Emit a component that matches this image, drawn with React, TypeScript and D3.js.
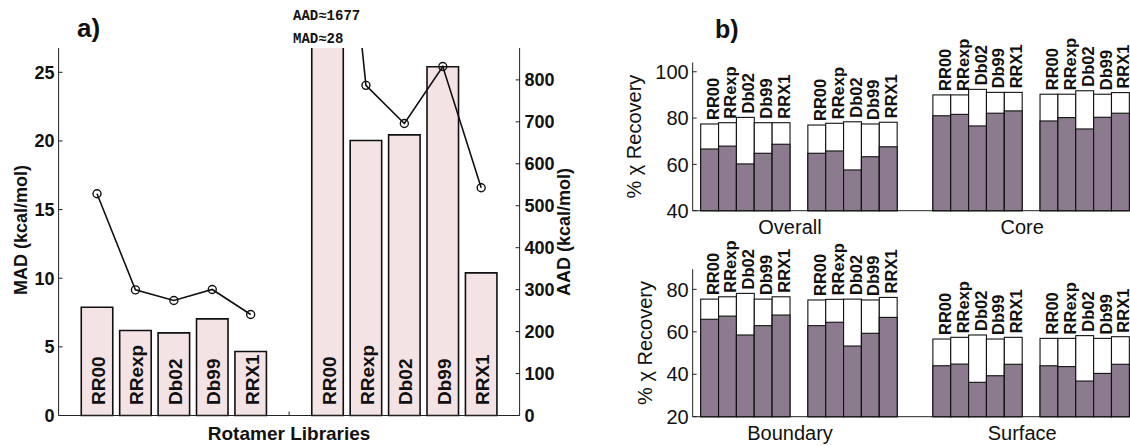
import React from "react";
import * as d3 from "d3";

// ---------- Data ----------
const libraries = ["RR00", "RRexp", "Db02", "Db99", "RRX1"];

// panel a
const madBarsSet1 = [7.89, 6.19, 6.02, 7.04, 4.66];
const lineSet1 = [16.15, 9.15, 8.38, 9.18, 7.36];
const madBarsSet2 = [28, 20.03, 20.44, 25.4, 10.39];
const aadLineSet2 = [1677, 787, 696, 832, 543];
const leftTicks = [0, 5, 10, 15, 20, 25];
const rightTicks = [0, 100, 200, 300, 400, 500, 600, 700, 800];

// panel b
const overallTotal1 = [77.45, 78.0, 80.3, 78.0, 78.0];
const overallLower1 = [66.65, 67.9, 60.2, 64.8, 68.7];
const overallTotal2 = [77.0, 77.75, 78.4, 77.45, 78.2];
const overallLower2 = [64.8, 65.8, 57.6, 63.3, 67.6];
const coreTotal1 = [90.0, 90.0, 92.4, 91.1, 91.1];
const coreLower1 = [81.0, 81.6, 76.6, 82.1, 83.1];
const coreTotal2 = [90.3, 90.3, 91.8, 90.3, 91.0];
const coreLower2 = [78.75, 80.2, 75.3, 80.35, 82.1];
const boundaryTotal1 = [75.4, 76.5, 78.1, 75.4, 76.5];
const boundaryLower1 = [65.9, 67.4, 58.5, 62.9, 67.9];
const boundaryTotal2 = [75.0, 75.3, 75.4, 75.0, 76.2];
const boundaryLower2 = [62.9, 64.5, 53.3, 59.3, 66.8];
const surfaceTotal1 = [56.6, 57.4, 58.5, 56.6, 57.4];
const surfaceLower1 = [44.0, 44.8, 36.2, 39.3, 44.7];
const surfaceTotal2 = [56.9, 56.9, 58.2, 56.9, 57.7];
const surfaceLower2 = [44.0, 43.6, 36.8, 40.4, 44.7];
const topTicks = [40, 60, 80, 100];
const bottomTicks = [20, 40, 60, 80];

const FONT = "'Liberation Sans', Arial, Helvetica, sans-serif";
const PINK = "#f4e3e5";
const PURPLE = "#8c7a8f";

// ---------- Panel A ----------
function PanelA() {
  const x = d3.scaleLinear().domain([0, 12]).range([58.6, 519.6]);
  const yL = d3.scaleLinear().domain([0, 26.77]).range([415.5, 48]);
  const yR = d3.scaleLinear().domain([0, 876]).range([415.5, 48]);
  const bw = (x(1) - x(0)) * 0.82;
  const pos1 = libraries.map((_, i) => i + 1);
  const pos2 = libraries.map((_, i) => i + 7);
  const lineGen = d3.line<[number, number]>().x((d) => d[0]).y((d) => d[1]);
  const line1 = lineGen(pos1.map((p, i) => [x(p), yL(lineSet1[i])]));
  const line2 = lineGen(pos2.map((p, i) => [x(p), yR(aadLineSet2[i])]));
  const [x0, x1] = x.range();
  const [yb, yt] = yL.range();

  const bars = (positions: number[], vals: number[], key: string) =>
    positions.map((p, i) => {
      const top = Math.max(yL(vals[i]), yt);
      return (
        <g key={key + i}>
          <rect x={x(p) - bw / 2} y={top} width={bw} height={yb - top} fill={PINK} stroke="none" />
          <path
            d={
              yL(vals[i]) < yt
                ? `M${x(p) - bw / 2},${top}V${yb}H${x(p) + bw / 2}V${top}`
                : `M${x(p) - bw / 2},${yb}V${top}H${x(p) + bw / 2}V${yb}Z`
            }
            fill="none"
            stroke="#111"
            strokeWidth={1.6}
          />
          <text
            transform={`translate(${x(p) + 8},405) rotate(-90)`}
            fontFamily={FONT}
            fontWeight="bold"
            fontSize={19}
            fill="#111"
          >
            {libraries[i]}
          </text>
        </g>
      );
    });

  return (
    <g>
      <defs>
        <clipPath id="clipA">
          <rect x={x0} y={yt} width={x1 - x0} height={yb - yt} />
        </clipPath>
      </defs>
      {bars(pos1, madBarsSet1, "a")}
      {bars(pos2, madBarsSet2, "b")}
      <g clipPath="url(#clipA)">
        <path d={line1 || ""} fill="none" stroke="#111" strokeWidth={1.6} />
        <path d={line2 || ""} fill="none" stroke="#111" strokeWidth={1.6} />
        {pos1.map((p, i) => (
          <circle key={"c1" + i} cx={x(p)} cy={yL(lineSet1[i])} r={4} fill="none" stroke="#111" strokeWidth={1.4} />
        ))}
        {pos2.map((p, i) => (
          <circle key={"c2" + i} cx={x(p)} cy={yR(aadLineSet2[i])} r={4} fill="none" stroke="#111" strokeWidth={1.4} />
        ))}
      </g>
      {/* axes */}
      <line x1={x0} x2={x0} y1={yt} y2={yb} stroke="#222" strokeWidth={1} />
      <line x1={x1} x2={x1} y1={yt} y2={yb} stroke="#222" strokeWidth={1} />
      <line x1={x0} x2={x1} y1={yb} y2={yb} stroke="#222" strokeWidth={1} />
      <line x1={x(6)} x2={x(6)} y1={yb} y2={yb - 4} stroke="#222" strokeWidth={1} />
      {leftTicks.map((t) => (
        <g key={"lt" + t}>
          <line x1={x0} x2={x0 + 4} y1={yL(t)} y2={yL(t)} stroke="#222" />
          <text x={x0 - 4} y={yL(t)} dy="0.35em" textAnchor="end" fontFamily={FONT} fontWeight="bold" fontSize={18} fill="#111">
            {t}
          </text>
        </g>
      ))}
      {rightTicks.map((t) => (
        <g key={"rt" + t}>
          <line x1={x1 - 4} x2={x1} y1={yR(t)} y2={yR(t)} stroke="#222" />
          <text x={x1 + 5} y={yR(t)} dy="0.35em" textAnchor="start" fontFamily={FONT} fontWeight="bold" fontSize={18} fill="#111">
            {t}
          </text>
        </g>
      ))}
      <text transform="translate(27,230) rotate(-90)" textAnchor="middle" fontFamily={FONT} fontWeight="bold" fontSize={18} fill="#111">
        MAD (kcal/mol)
      </text>
      <text transform="translate(570,232) rotate(-90)" textAnchor="middle" fontFamily={FONT} fontWeight="bold" fontSize={18} fill="#111">
        AAD (kcal/mol)
      </text>
      <text x={x(6)} y={440} textAnchor="middle" fontFamily={FONT} fontWeight="bold" fontSize={19} fill="#111">
        Rotamer Libraries
      </text>
      <text x={77} y={36.5} fontFamily={FONT} fontWeight="bold" fontSize={26} fill="#111">
        a)
      </text>
      <text x={293} y={20} fontFamily="'Liberation Mono', 'Courier New', monospace" fontWeight="bold" fontSize={14} fill="#111">
        AAD≈1677
      </text>
      <text x={293} y={43} fontFamily="'Liberation Mono', 'Courier New', monospace" fontWeight="bold" fontSize={14} fill="#111">
        MAD≈28
      </text>
    </g>
  );
}

// ---------- Panel B ----------
type SubProps = {
  y: d3.ScaleLinear<number, number>;
  ticks: number[];
  sets: { start: number; total: number[]; lower: number[] }[];
  cats: { pos: number; label: string }[];
  ylabelX: number;
  id: string;
};

const xB = d3.scaleLinear().domain([0.5, 1.5]).range([700.7, 718.56]);

function SubPlot({ y, ticks, sets, cats, ylabelX, id }: SubProps) {
  const [yb, yt] = y.range();
  const axX = xB(0.05);
  const w = xB(1) - xB(0);
  const base = y.domain()[0];
  return (
    <g>
      <line x1={axX} x2={1130} y1={yb} y2={yb} stroke="#222" strokeWidth={1} />
      {sets.map((s, si) =>
        libraries.map((lib, i) => {
          const c = s.start + i;
          return (
            <g key={id + si + "_" + i}>
              <rect x={xB(c) - w / 2} y={y(s.total[i])} width={w} height={y(base) - y(s.total[i])} fill="#fff" stroke="#111" strokeWidth={1.1} />
              <rect x={xB(c) - w / 2} y={y(s.lower[i])} width={w} height={y(base) - y(s.lower[i])} fill={PURPLE} stroke="#111" strokeWidth={1.1} />
              <text
                transform={`translate(${xB(c) + 9},${y(s.total[i]) - 4}) rotate(-90)`}
                fontFamily={FONT}
                fontWeight="bold"
                fontSize={16.5}
                fill="#111"
              >
                {lib}
              </text>
            </g>
          );
        })
      )}
      <line x1={axX} x2={axX} y1={yt} y2={yb} stroke="#222" strokeWidth={1} />
      {ticks.map((t) => (
        <g key={id + "t" + t}>
          <line x1={axX} x2={axX + 4} y1={y(t)} y2={y(t)} stroke="#222" />
          <text x={axX - 4} y={y(t)} dy="0.36em" textAnchor="end" fontFamily={FONT} fontSize={20} fill="#111">
            {t}
          </text>
        </g>
      ))}
      <text
        transform={`translate(${ylabelX},${(yt + yb) / 2}) rotate(-90)`}
        textAnchor="middle"
        fontFamily={FONT}
        fontSize={20}
        fill="#111"
      >
        % χ Recovery
      </text>
      {cats.map((c) => (
        <text key={id + c.label} x={xB(c.pos)} y={yb + 23} textAnchor="middle" fontFamily={FONT} fontSize={20} fill="#111">
          {c.label}
        </text>
      ))}
    </g>
  );
}

function PanelB() {
  const yTop = d3.scaleLinear().domain([40, 104]).range([210.7, 62.5]);
  const yBot = d3.scaleLinear().domain([20, 89.5]).range([416.7, 269.2]);
  return (
    <g>
      <SubPlot
        id="top"
        y={yTop}
        ticks={topTicks}
        ylabelX={641}
        sets={[
          { start: 1, total: overallTotal1, lower: overallLower1 },
          { start: 7, total: overallTotal2, lower: overallLower2 },
          { start: 14, total: coreTotal1, lower: coreLower1 },
          { start: 20, total: coreTotal2, lower: coreLower2 },
        ]}
        cats={[
          { pos: 5.5, label: "Overall" },
          { pos: 18.5, label: "Core" },
        ]}
      />
      <SubPlot
        id="bot"
        y={yBot}
        ticks={bottomTicks}
        ylabelX={652}
        sets={[
          { start: 1, total: boundaryTotal1, lower: boundaryLower1 },
          { start: 7, total: boundaryTotal2, lower: boundaryLower2 },
          { start: 14, total: surfaceTotal1, lower: surfaceLower1 },
          { start: 20, total: surfaceTotal2, lower: surfaceLower2 },
        ]}
        cats={[
          { pos: 5.5, label: "Boundary" },
          { pos: 18.5, label: "Surface" },
        ]}
      />
      <text x={715} y={38} fontFamily={FONT} fontWeight="bold" fontSize={25} fill="#111">
        b)
      </text>
    </g>
  );
}

export default function App() {
  return (
    <svg
      width={1130}
      height={446}
      viewBox="0 0 1130 446"
      style={{ position: "absolute", left: 0, top: 0, background: "#fff" }}
    >
      <rect x={0} y={0} width={1130} height={446} fill="#fff" />
      <PanelA />
      <PanelB />
    </svg>
  );
}
